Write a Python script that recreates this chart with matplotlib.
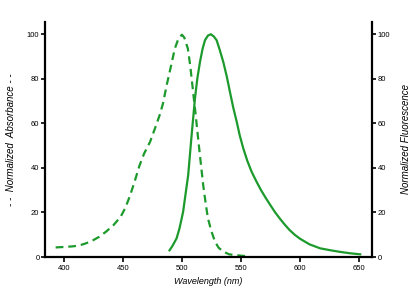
import matplotlib
matplotlib.use("Agg")
import matplotlib.pyplot as plt

abs_wl = [393, 400, 408, 413, 418, 424, 430, 436, 442, 448, 452, 456, 460, 464, 468, 473, 477, 481, 484, 487, 490, 494, 497, 500, 502, 505, 507, 509.5, 512, 514, 516, 518, 520, 522, 525, 528, 531, 535, 540, 546, 556]
abs_val = [4.3, 4.5, 4.8, 5.2, 6.0, 7.3, 9.1, 11.5, 14.3, 18, 22, 27.5, 34, 41, 46.5, 51.7, 57.5, 63.5, 69, 77, 84, 93.6, 98, 99.8, 98.5, 93.6, 86, 74, 62, 51.7, 42, 32.3, 24.5, 17.4, 11.5, 6.9, 4.2, 2.4, 1.2, 0.8, 0.3]

fl_wl = [489.5, 492, 495.5, 498, 501, 503, 505.3, 508.2, 511, 513, 515.3, 517.5, 519.5, 522, 524.5, 527, 529.4, 532, 535, 538, 540.7, 543.5, 546.4, 549, 552, 555.5, 559, 563, 567, 571, 575, 579, 583, 587, 591, 595.5, 600, 608, 617, 626, 634, 642, 651]
fl_val = [3.0, 5.0, 8.4, 13, 20.3, 28, 36.8, 54.7, 71, 80, 87.6, 93.5, 97.3, 99.4, 100, 99, 97.3, 93, 87.6, 81, 74, 67, 60.7, 54.5, 48.7, 43, 38.3, 34, 30, 26.5, 23.2, 20, 17.2, 14.6, 12.2, 10, 8.2, 5.7, 3.9, 3.0, 2.3, 1.7, 1.2]

xticks = [400, 450, 500, 550, 600, 650]
yticks = [0, 20, 40, 60, 80, 100]

green = "#1c9a2c"
plt.rcParams['font.family'] = ['Liberation Sans', 'DejaVu Sans']

fig = plt.figure(figsize=(4.2, 2.98), dpi=100)
ax = fig.add_axes([45/420, 41/298, (372-45)/420, (257-22)/298])
ax2 = ax.twinx()

ax.plot(abs_wl, abs_val, color=green, lw=1.6, linestyle=(0, (3.5, 2.2)))
ax2.plot(fl_wl, fl_val, color=green, lw=1.6)

for a in (ax, ax2):
    a.set_xlim(384, 661)
    a.set_ylim(0, 105.5)
    a.spines['top'].set_visible(False)
    for s in a.spines.values():
        s.set_linewidth(1.6)
    a.set_yticks(yticks)
    a.tick_params(axis='y', labelsize=5.5, length=3, width=1.2, pad=1)
ax.spines['right'].set_visible(False)
ax2.spines['left'].set_visible(False)
ax2.spines['bottom'].set_visible(False)

ax.set_xticks(xticks)
ax.tick_params(axis='x', labelsize=5.5, length=3.5, width=1.2, pad=2)

ax.set_xlabel("Wavelength (nm)", fontsize=6.5, style='italic', labelpad=4)
ax.set_ylabel("- -  Normalized  Absorbance - -", fontsize=7, style='italic', labelpad=8)
ax2.set_ylabel("Normalized Fluorescence", fontsize=7, style='italic', labelpad=8)

fig.savefig("out.png", dpi=100)
